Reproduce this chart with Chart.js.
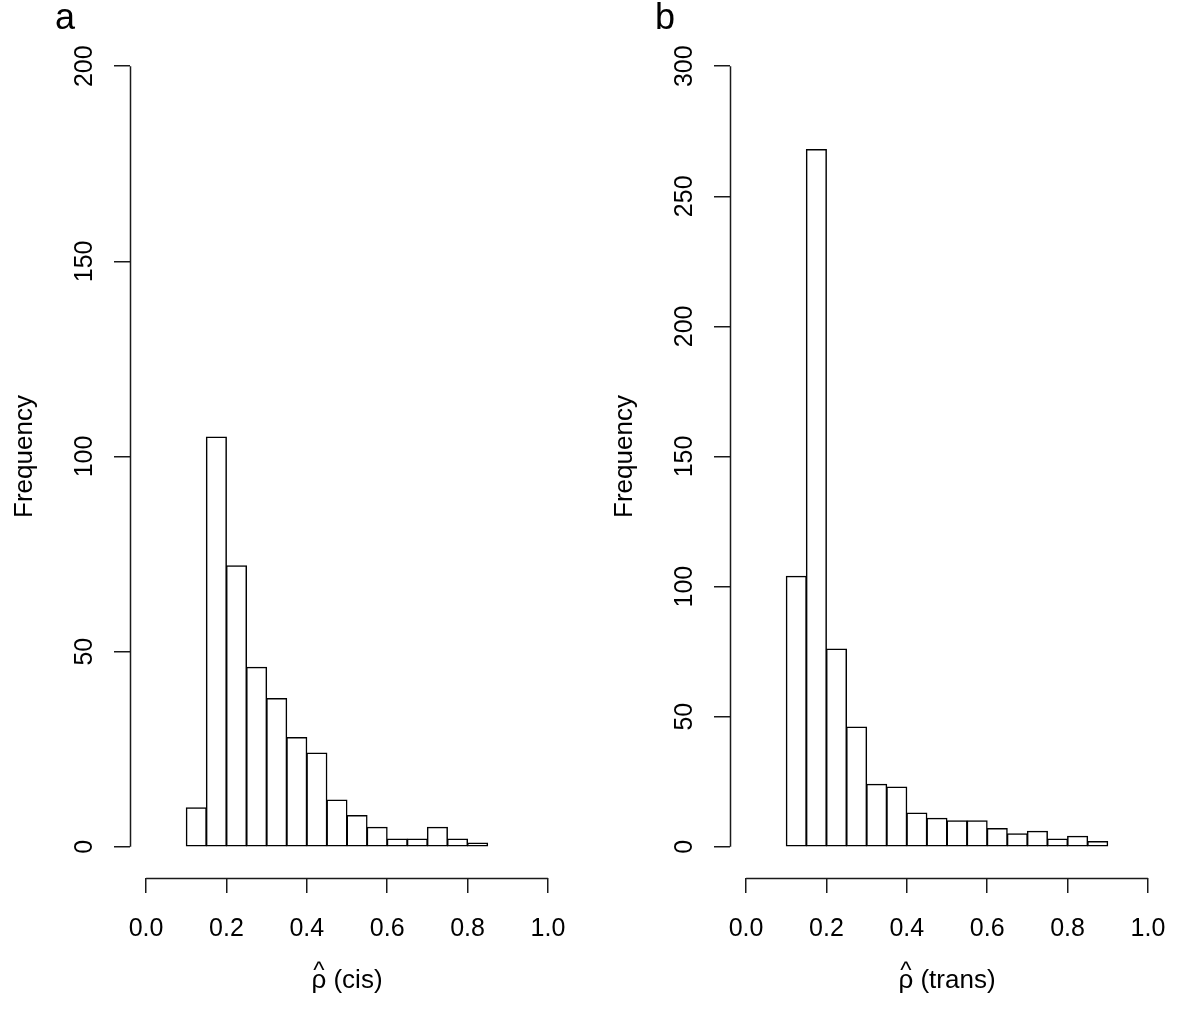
<!DOCTYPE html>
<html>
<head>
<meta charset="utf-8">
<script src="https://cdn.jsdelivr.net/npm/chart.js@4.4.1/dist/chart.umd.min.js"></script>
<style>
  html, body { margin: 0; padding: 0; background: #fff; }
  #wrap { display: flex; width: 1200px; height: 1020px; }
  canvas { display: block; }
</style>
</head>
<body>
<div id="wrap">
  <canvas id="ca" width="600" height="1020"></canvas>
  <canvas id="cb" width="600" height="1020"></canvas>
</div>
<script>
// ---- data ----
const binWidth = 0.05;
const cisBinStarts = [0.10, 0.15, 0.20, 0.25, 0.30, 0.35, 0.40, 0.45, 0.50, 0.55, 0.60, 0.65, 0.70, 0.75, 0.80];
const cisCounts    = [10, 105, 72, 46, 38, 28, 24, 12, 8, 5, 2, 2, 5, 2, 1];
const transBinStarts = [0.10, 0.15, 0.20, 0.25, 0.30, 0.35, 0.40, 0.45, 0.50, 0.55, 0.60, 0.65, 0.70, 0.75, 0.80, 0.85];
const transCounts    = [104, 268, 76, 46, 24, 23, 13, 11, 10, 10, 7, 5, 6, 3, 4, 2];
const xTickValues = [0.0, 0.2, 0.4, 0.6, 0.8, 1.0];
const cisYTicks = [0, 50, 100, 150, 200];
const transYTicks = [0, 50, 100, 150, 200, 250, 300];

const FONT = '"Liberation Sans", Arial, Helvetica, sans-serif';
const AXIS_COLOR = '#1a1a1a';

const rAxisPlugin = {
  id: 'rAxis',
  afterDraw(chart, args, opts) {
    const ctx = chart.ctx;
    const xs = chart.scales.x, ys = chart.scales.y;
    const area = chart.chartArea;
    ctx.save();
    ctx.strokeStyle = AXIS_COLOR;
    ctx.lineWidth = 1.5;
    // y axis line (from first to last tick)
    const yl = Math.round(area.left) + 0.5;
    ctx.beginPath();
    ctx.moveTo(yl, ys.getPixelForValue(opts.yTicks[0]));
    ctx.lineTo(yl, ys.getPixelForValue(opts.yTicks[opts.yTicks.length - 1]));
    ctx.stroke();
    // x axis line
    const xb = Math.round(area.bottom) + 0.5;
    ctx.beginPath();
    ctx.moveTo(xs.getPixelForValue(xTickValues[0]), xb);
    ctx.lineTo(xs.getPixelForValue(xTickValues[xTickValues.length - 1]), xb);
    ctx.stroke();

    ctx.fillStyle = '#000';
    // y tick labels (rotated, parallel to axis)
    ctx.font = '25px ' + FONT;
    ctx.textAlign = 'center';
    ctx.textBaseline = 'alphabetic';
    ys.ticks.forEach(t => {
      const py = ys.getPixelForValue(t.value);
      ctx.save();
      ctx.translate(92, py);
      ctx.rotate(-Math.PI / 2);
      ctx.fillText(String(t.value), 0, 0);
      ctx.restore();
    });
    // y title
    ctx.font = '26px ' + FONT;
    ctx.save();
    ctx.translate(32, (area.top + area.bottom) / 2);
    ctx.rotate(-Math.PI / 2);
    ctx.fillText('Frequency', 0, 0);
    ctx.restore();
    // x title with hat over rho
    const cx = (area.left + area.right) / 2;
    const full = 'ρ (' + opts.xName + ')';
    ctx.font = '26px ' + FONT;
    const w = ctx.measureText(full).width;
    const wr = ctx.measureText('ρ').width;
    const sx = cx - w / 2;
    ctx.textAlign = 'left';
    ctx.fillText(full, sx, 988);
    ctx.font = '24px ' + FONT;
    ctx.textAlign = 'center';
    ctx.fillText('^', sx + wr / 2, 978);
    // panel letter
    ctx.font = '36px ' + FONT;
    ctx.textAlign = 'left';
    ctx.fillText(opts.letter, 55, 29);
    ctx.restore();
  }
};

function makeChart(id, starts, counts, yTicks, yMax, xName, letter) {
  const data = starts.map((s, i) => ({ x: s + binWidth / 2, y: counts[i] }));
  const ext = yMax * 0.04;
  return new Chart(document.getElementById(id), {
    type: 'bar',
    data: {
      datasets: [{
        data: data,
        backgroundColor: '#ffffff',
        borderColor: '#000000',
        borderWidth: 1.5,
        borderSkipped: false,
        barPercentage: 1.0,
        categoryPercentage: 1.0,
        inflateAmount: 0.5
      }]
    },
    options: {
      responsive: false,
      devicePixelRatio: 1,
      animation: false,
      layout: { padding: { left: 0, right: 36, top: 35, bottom: 0 } },
      plugins: {
        legend: { display: false },
        tooltip: { enabled: false },
        rAxis: { yTicks: yTicks, xName: xName, letter: letter }
      },
      scales: {
        x: {
          type: 'linear',
          offset: false,
          min: -0.04,
          max: 1.04,
          afterBuildTicks: s => { s.ticks = xTickValues.map(v => ({ value: v })); },
          afterFit: s => { s.height = 142; },
          border: { display: false },
          grid: { display: true, offset: false, drawOnChartArea: false, drawTicks: true, tickLength: 15, color: AXIS_COLOR, lineWidth: 1.5 },
          ticks: {
            color: '#000',
            font: { size: 25, family: FONT },
            padding: 21,
            maxRotation: 0,
            autoSkip: false,
            callback: v => Number(v).toFixed(1)
          }
        },
        y: {
          type: 'linear',
          min: -ext,
          max: yMax + ext,
          afterBuildTicks: s => { s.ticks = yTicks.map(v => ({ value: v })); },
          afterFit: s => { s.width = 130; },
          border: { display: false },
          grid: { display: true, offset: false, drawOnChartArea: false, drawTicks: true, tickLength: 16, color: AXIS_COLOR, lineWidth: 1.5 },
          ticks: { display: false }
        }
      }
    },
    plugins: [rAxisPlugin]
  });
}

makeChart('ca', cisBinStarts, cisCounts, cisYTicks, 200, 'cis', 'a');
makeChart('cb', transBinStarts, transCounts, transYTicks, 300, 'trans', 'b');
</script>
</body>
</html>
